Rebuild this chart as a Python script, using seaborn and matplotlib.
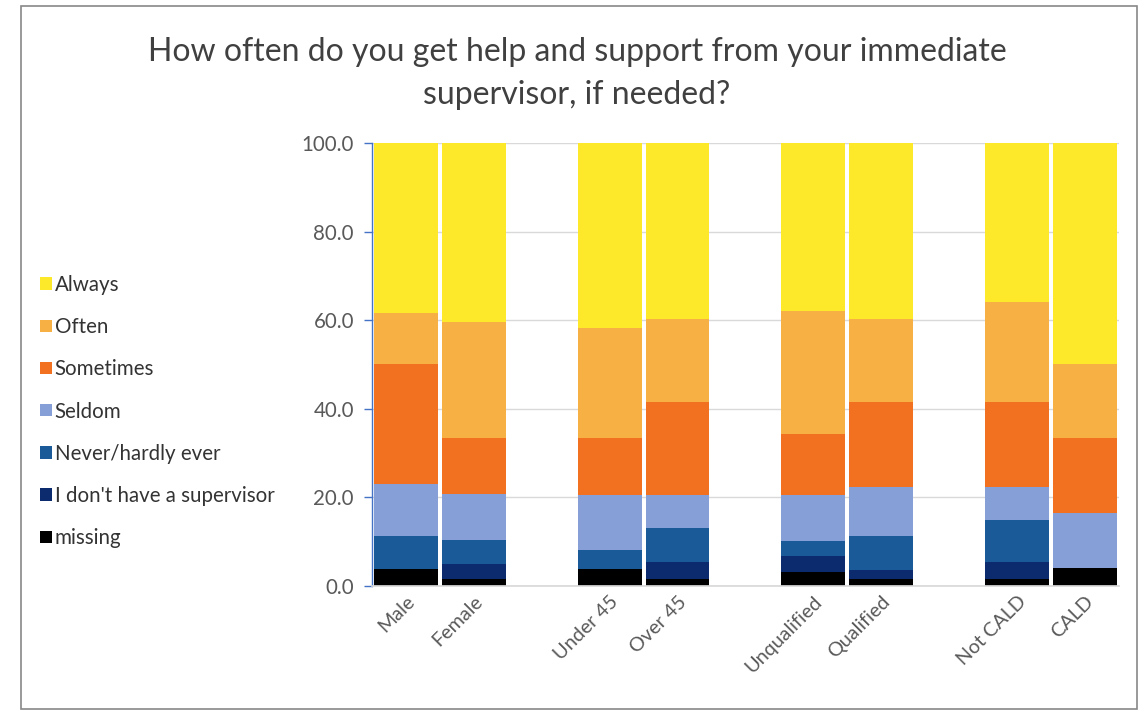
import matplotlib
matplotlib.use("Agg")
import matplotlib.pyplot as plt
from matplotlib.patches import Patch, Rectangle
import pandas as pd
import seaborn as sns

# Respondent groups (bars) and response shares in percent
groups = ["Male", "Female", "Under 45", "Over 45",
          "Unqualified", "Qualified", "Not CALD", "CALD"]
missing = [3.8, 1.5, 3.9, 1.5, 3.2, 1.5, 1.5, 4.0]
no_supervisor = [0.0, 3.5, 0.0, 3.9, 3.5, 2.1, 3.9, 0.0]
never = [7.5, 5.3, 4.2, 7.7, 3.5, 7.6, 9.5, 0.0]
seldom = [11.7, 10.4, 12.5, 7.5, 10.3, 11.2, 7.5, 12.5]
sometimes = [27.0, 12.6, 12.8, 20.9, 13.8, 19.1, 19.1, 16.8]
often = [11.6, 26.3, 24.8, 18.7, 27.7, 18.7, 22.5, 16.7]
always = [38.4, 40.4, 41.8, 39.8, 38.0, 39.8, 36.0, 50.0]

# Stack order from bottom to top
responses = ["missing", "I don't have a supervisor", "Never/hardly ever",
             "Seldom", "Sometimes", "Often", "Always"]
series = [missing, no_supervisor, never, seldom, sometimes, often, always]
palette = ["#000000", "#0B2B6E", "#1A5A98", "#869FD6",
           "#F27121", "#F6B044", "#FDE92A"]

# Blank slots separate the four pairs of bars
order = ["Male", "Female", " ", "Under 45", "Over 45", "  ",
         "Unqualified", "Qualified", "   ", "Not CALD", "CALD"]

df = pd.DataFrame(dict(zip(responses, series)))
df.insert(0, "group", groups)
cum = df[responses].cumsum(axis=1)
cum.insert(0, "group", groups)

sns.set_theme(style="white")
plt.rcParams["font.family"] = ["Lato", "DejaVu Sans"]

FS = 14.8

fig = plt.figure(figsize=(11.47, 7.11), dpi=100)
ax = fig.add_axes([0.3243, 0.1758, 0.6513, 0.6231])

# Draw cumulative totals from the top segment down so each layer overlays the one above
for resp, col in zip(reversed(responses), reversed(palette)):
    sns.barplot(data=cum, x="group", y=resp, order=order, color=col,
                saturation=1, width=0.94, linewidth=0, errorbar=None, ax=ax)

ax.set_xlim(-0.5, len(order) - 0.5)
ax.set_ylim(0, 100)
ax.set_yticks([0, 20, 40, 60, 80, 100])
ax.set_yticklabels([f"{v:.1f}" for v in [0, 20, 40, 60, 80, 100]])
ax.set_xlabel("")
ax.set_ylabel("")
ax.yaxis.grid(True, color="#d9d9d9", linewidth=1.0)
ax.set_axisbelow(True)

for side in ["top", "right"]:
    ax.spines[side].set_visible(False)
ax.spines["bottom"].set_color("#d9d9d9")
ax.spines["left"].set_color("#4472C4")
ax.spines["left"].set_linewidth(1.0)

ax.tick_params(axis="y", direction="out", length=6, width=1, color="#4472C4",
               labelcolor="#595959", labelsize=FS, pad=7, left=True)
ax.tick_params(axis="x", length=0, labelcolor="#595959", labelsize=14.2, pad=5)
for lbl in ax.get_xticklabels():
    lbl.set_rotation(45)
    lbl.set_ha("right")
    lbl.set_rotation_mode("anchor")

fig.text(0.503, 1 - 37 / 711,
         "How often do you get help and support from your immediate\nsupervisor, if needed?",
         ha="center", va="top", fontsize=23, color="#404040", linespacing=1.55)

handles = [Patch(facecolor=c, edgecolor="none")
           for c in reversed(palette)]
fig.legend(handles, list(reversed(responses)), loc="center left",
           bbox_to_anchor=(0.019, 0.4212), frameon=False,
           handlelength=0.55, handleheight=0.55, handletextpad=0.15,
           labelspacing=1.08, fontsize=FS, labelcolor="#333333")

fig.patches.append(Rectangle((20.5 / 1147, 2.5 / 711), (1137 - 20.5) / 1147,
                             (705 - 2.5) / 711, transform=fig.transFigure,
                             fill=False, edgecolor="#888888", linewidth=1.2))

fig.savefig("out.png", dpi=100, facecolor="white")
